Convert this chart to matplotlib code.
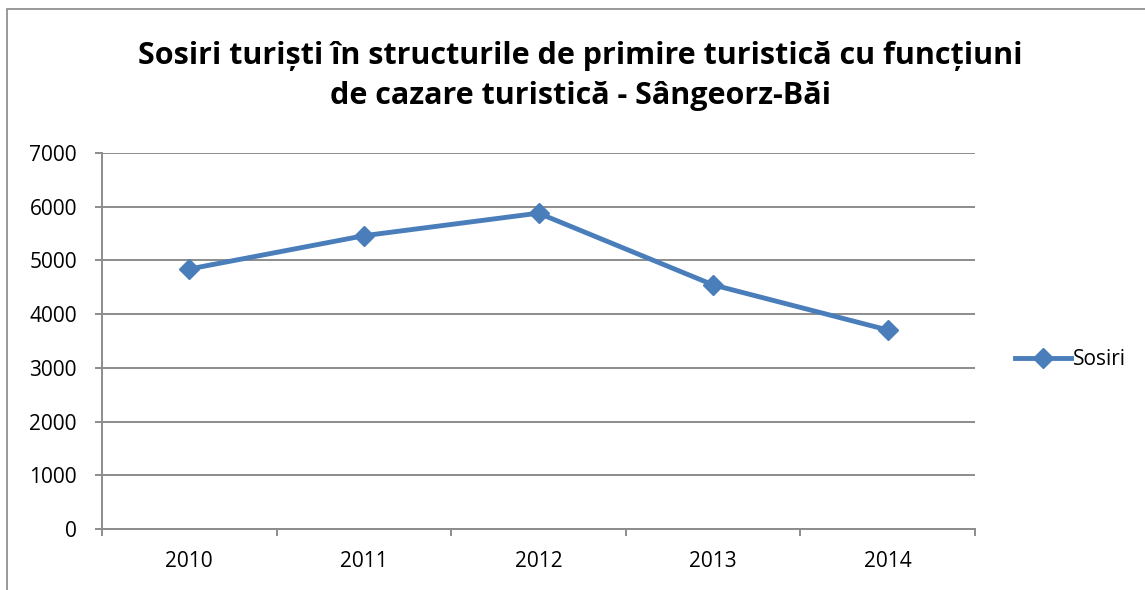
import numpy as np
import matplotlib
matplotlib.use("Agg")
import matplotlib.pyplot as plt
from matplotlib.patches import Rectangle

# data
years = ["2010", "2011", "2012", "2013", "2014"]
sosiri = [4840, 5460, 5880, 4545, 3705]
yticks = [0, 1000, 2000, 3000, 4000, 5000, 6000, 7000]

title = "Sosiri turiști în structurile de primire turistică cu funcțiuni\nde cazare turistică - Sângeorz-Băi"

plt.rcParams['font.family'] = ['Open Sans', 'DejaVu Sans']

W, H = 1145, 590
fig = plt.figure(figsize=(W/100, H/100), dpi=100)

# outer chart border (left and top visible)
fig.patches.append(Rectangle((7/W, -0.1), 1.2, (H - 9)/H + 0.1, transform=fig.transFigure,
                             fill=False, edgecolor="#888888", linewidth=1.2))

# plot area in pixels: x 102..975, y 153..529
ax = fig.add_axes([102/W, 1 - 529/H, (975 - 102)/W, (529 - 153)/H])

x = np.arange(len(years))
ax.plot(x, sosiri, color="#4A7EBB", linewidth=3.5, marker="D", markersize=10,
        markeredgecolor="#4A7EBB", label="Sosiri", zorder=3)

ax.set_xlim(-0.5, len(years) - 0.5)
ax.set_ylim(0, 7000)
ax.set_yticks(yticks)
ax.set_yticklabels([str(v) for v in yticks], fontsize=15)
ax.yaxis.grid(True, color="#8c8c8c", linewidth=1.4)
ax.set_axisbelow(True)

# category ticks between categories, labels centred
ax.set_xticks(np.arange(-0.5, len(years), 1.0))
ax.set_xticklabels([])
ax.set_xticks(x, minor=True)
ax.set_xticklabels(years, minor=True, fontsize=15)
ax.tick_params(axis="x", which="minor", length=0, pad=16)
ax.tick_params(axis="x", which="major", length=5, width=1.4, color="#8c8c8c")
ax.tick_params(axis="y", length=5, width=1.4, color="#8c8c8c", pad=13)

for s in ["top", "right"]:
    ax.spines[s].set_visible(False)
for s in ["left", "bottom"]:
    ax.spines[s].set_color("#8c8c8c")
    ax.spines[s].set_linewidth(1.4)

fig.text(580/W, 1 - 76/H, title, ha="center", va="center", fontsize=22,
         fontweight="bold", linespacing=1.42)

ax.legend(loc="center left", bbox_to_anchor=(1.0, 1 - (360 - 153)/(529 - 153)),
          frameon=False, fontsize=15, handlelength=2.7, handletextpad=0.1,
          borderaxespad=1.5)

fig.savefig("out.png", dpi=100)
